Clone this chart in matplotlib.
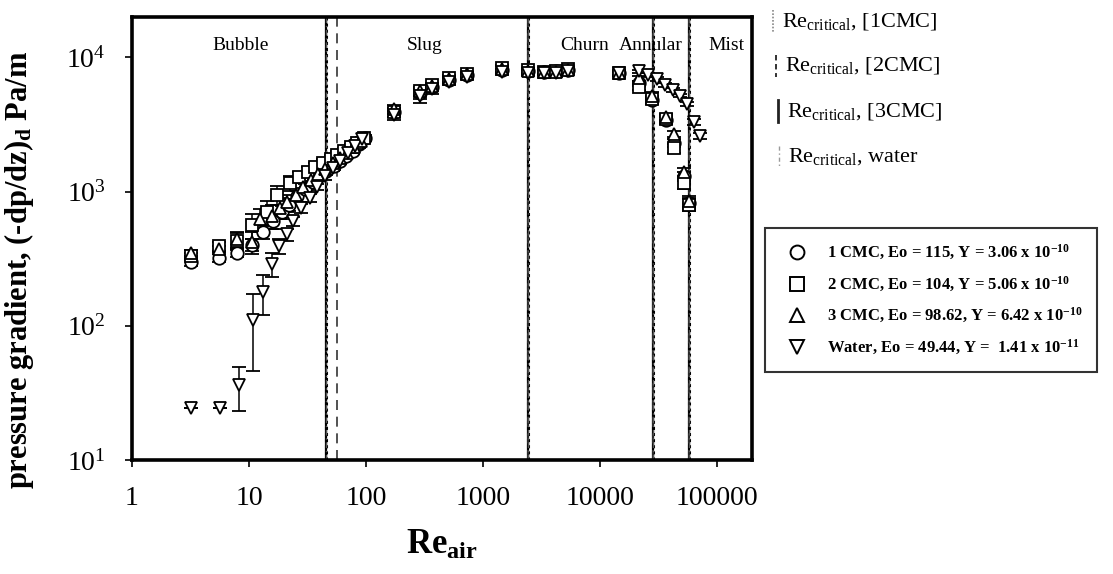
import matplotlib
matplotlib.use("Agg")
import matplotlib.pyplot as plt
from matplotlib.lines import Line2D
from matplotlib.ticker import FixedLocator, NullLocator

plt.rcParams['font.family'] = ['Liberation Serif', 'DejaVu Serif']
plt.rcParams['mathtext.fontset'] = 'custom'
plt.rcParams['mathtext.rm'] = 'Liberation Serif'
plt.rcParams['mathtext.it'] = 'Liberation Serif:italic'
plt.rcParams['mathtext.bf'] = 'Liberation Serif:bold'
plt.rcParams['axes.unicode_minus'] = False

# ---------------- data ----------------
cmc1_x = [3.2, 5.5, 7.9, 10.6, 13.2, 16, 19, 22, 26, 30, 35, 40, 46, 53, 60, 68, 77, 87, 98,
          175, 290, 370, 510, 730, 1450, 2450, 3300, 4200, 5300,
          14600, 21600, 28000, 36500, 43000, 52000, 58000]
cmc1_y = [300, 320, 350, 400, 500, 600, 700, 800, 920, 1050, 1180, 1300, 1430, 1560, 1700, 1850, 2000, 2250, 2500,
          3900, 5400, 6000, 6800, 7400, 8100, 7900, 7800, 7900, 8100,
          7700, 6400, 4800, 3400, 2300, 1300, 820]
cmc1_err = [20, 20, 25, 40, 60, 70, 80, 80, 90, 90, 100, 100, 100, 100, 100, 110, 110, 120, 120,
            300, 500, 300, 400, 300, 500, 300, 300, 300, 300,
            300, 300, 300, 200, 150, 100, 80]

cmc2_x = [3.2, 5.5, 7.9, 10.6, 14.2, 17.3, 22.5, 27, 32, 37, 43, 50, 57, 65, 74, 84, 96,
          175, 290, 370, 510, 730, 1450, 2450, 3300, 4200, 5300,
          14600, 21600, 28000, 36500, 43000, 52000, 58000]
cmc2_y = [330, 390, 430, 560, 700, 950, 1160, 1280, 1400, 1520, 1640, 1760, 1880, 2000, 2150, 2300, 2500,
          3900, 5600, 6200, 7000, 7500, 8300, 8000, 7800, 7900, 8200,
          7700, 6000, 4900, 3500, 2100, 1150, 800]
cmc2_err = [20, 30, 60, 120, 150, 150, 150, 120, 120, 120, 120, 120, 120, 120, 120, 120, 120,
            300, 400, 300, 400, 300, 500, 300, 300, 300, 300,
            300, 300, 300, 200, 150, 100, 80]

cmc3_x = [3.2, 5.5, 7.9, 10.6, 12.5, 15.7, 18.5, 21, 25, 29, 34, 39, 45, 52, 60, 69, 79, 90,
          175, 290, 370, 510, 730, 1450, 2450, 3300, 4200, 5300,
          14600, 21600, 28000, 36500, 43000, 52000, 58000]
cmc3_y = [350, 375, 440, 420, 620, 660, 760, 830, 950, 1080, 1220, 1350, 1480, 1620, 1780, 1950, 2150, 2400,
          4100, 5600, 6100, 6900, 7500, 8200, 7900, 7800, 7800, 8000,
          7600, 7000, 5200, 3600, 2700, 1400, 850]
cmc3_err = [20, 20, 60, 80, 120, 130, 130, 120, 120, 120, 120, 120, 120, 120, 120, 120, 120, 120,
            300, 400, 300, 400, 300, 500, 300, 300, 300, 300,
            300, 300, 300, 200, 150, 100, 80]

water_x = [3.2, 5.6, 8.3, 10.8, 13.3, 15.7, 18.2, 21, 24, 28, 33, 38, 45, 52, 60, 70, 80, 92,
           175, 290, 370, 510, 730, 1450, 2450, 3300, 4200, 5300,
           14600, 21600, 26000, 31000, 36000, 42000, 48000, 56000, 64000, 72000]
water_y = [24.5, 24.5, 36, 110, 180, 290, 390, 480, 600, 750, 900, 1080, 1300, 1500, 1700, 1950, 2200, 2450,
           3700, 5200, 5800, 6600, 7200, 7800, 7700, 7700, 7700, 7900,
           7600, 7900, 7400, 6900, 6200, 5700, 5200, 4500, 3300, 2600]
water_err = [0, 0, 13, 64, 60, 60, 50, 50, 50, 60, 60, 60, 70, 70, 80, 80, 80, 80,
             300, 600, 500, 400, 300, 400, 300, 300, 300, 300,
             200, 200, 200, 200, 200, 200, 150, 150, 150, 150]

# critical Reynolds numbers (regime transitions)
recrit_1cmc = [46, 2450, 28500, 57600]
recrit_2cmc = [57, 2450, 28500, 57600]
recrit_3cmc = [46, 2450, 28500, 57600]
recrit_water = [46, 2450, 28500, 57600]

regimes = ["Bubble", "Slug", "Churn", "Annular", "Mist"]
regime_x = [8.4, 320, 7400, 27000, 120000]

xticks = [1, 10, 100, 1000, 10000, 100000]
xticklabels = ["1", "10", "100", "1000", "10000", "100000"]
yticks = [10, 100, 1000, 10000]
yticklabels = ["$10^{1}$", "$10^{2}$", "$10^{3}$", "$10^{4}$"]

# ---------------- figure ----------------
fig = plt.figure(figsize=(11.13, 5.74), dpi=100)
ax = fig.add_axes([132 / 1113, 1 - 460 / 574, (752 - 132) / 1113, (460 - 17) / 574])
ax.set_xscale('log')
ax.set_yscale('log')
ax.set_xlim(1, 2.0e5)
ax.set_ylim(10, 2.0e4)

# vertical critical lines
for v in recrit_3cmc:
    ax.axvline(v, color='black', lw=1.6, ls='-', zorder=1)
for v in recrit_1cmc:
    ax.axvline(v, color='black', lw=2.2, ls=(0, (1, 1)), zorder=1)
for v in recrit_2cmc:
    ax.axvline(v, color='#333333', lw=1.2, ls=(0, (6, 4)), zorder=1)
for v in recrit_water:
    ax.axvline(v, color='#555555', lw=1.0, ls=(0, (4, 2, 1, 2)), zorder=1)

mk = dict(mfc='white', mec='black', mew=1.3, ms=9, ls='none', ecolor='black',
          elinewidth=1.1, capsize=5, capthick=1.1, zorder=3)
ax.errorbar(cmc1_x, cmc1_y, yerr=cmc1_err, marker='o', **mk)
ax.errorbar(cmc2_x, cmc2_y, yerr=cmc2_err, marker='s', **mk)
ax.errorbar(cmc3_x, cmc3_y, yerr=cmc3_err, marker='^', **mk)
ax.errorbar(water_x, water_y, yerr=water_err, marker='v', **mk)

for name, xv in zip(regimes, regime_x):
    ax.text(xv, 0.935, name, transform=ax.get_xaxis_transform(), ha='center', va='center',
            fontsize=14)

for s in ax.spines.values():
    s.set_linewidth(2.6)

ax.xaxis.set_major_locator(FixedLocator(xticks))
ax.xaxis.set_minor_locator(NullLocator())
ax.set_xticklabels(xticklabels)
ax.yaxis.set_major_locator(FixedLocator(yticks))
ax.yaxis.set_minor_locator(NullLocator())
ax.set_yticklabels(yticklabels)
ax.tick_params(axis='both', direction='out', length=5, width=1.2, labelsize=20)
ax.tick_params(axis='x', pad=14)
ax.tick_params(axis='y', pad=14)

ax.set_xlabel(r"$\mathbf{Re}_{\mathbf{air}}$", fontsize=25)
ax.xaxis.set_label_coords(0.5, -0.155)
ax.set_ylabel(r"pressure gradient, (-dp/dz)$_{\mathbf{d}}$ Pa/m", fontsize=22,
              fontweight='bold')
ax.yaxis.set_label_coords(-0.155, 0.43)

# legend for critical lines (line samples + text)
crit_labels = [r"Re$_{\mathrm{critical}}$, [1CMC]", r"Re$_{\mathrm{critical}}$, [2CMC]",
               r"Re$_{\mathrm{critical}}$, [3CMC]", r"Re$_{\mathrm{critical}}$, water"]
crit_styles = [dict(color='#888888', lw=1.2, ls=(0, (1, 1))),
               dict(color='#222222', lw=1.3, ls=(0, (3, 2))),
               dict(color='#222222', lw=2.0, ls='-'),
               dict(color='#999999', lw=1.0, ls=(0, (3, 2, 1, 2)))]
crit_y = [21, 66, 111, 157]
crit_lx = [773, 776, 778, 779]
for lab, sty, yy, lx in zip(crit_labels, crit_styles, crit_y, crit_lx):
    fig.add_artist(Line2D([lx / 1113, lx / 1113], [1 - (yy - 11) / 574, 1 - (yy + 11) / 574],
                          transform=fig.transFigure, **sty))
    fig.text((lx + 9) / 1113, 1 - yy / 574, lab, fontsize=16, va='center', ha='left')

handles = [Line2D([], [], marker=m, mfc='white', mec='black', mew=1.4, ms=10, ls='none')
           for m in ['o', 's', '^', 'v']]
labels = [r"1 CMC, Eo = 115, Y = 3.06 x 10$^{\mathbf{-10}}$",
          r"2 CMC, Eo = 104, Y = 5.06 x 10$^{\mathbf{-10}}$",
          r"3 CMC, Eo = 98.62, Y = 6.42 x 10$^{\mathbf{-10}}$",
          r"Water, Eo = 49.44, Y =  1.41 x 10$^{\mathbf{-11}}$"]
leg = fig.legend(handles, labels, loc='upper left', bbox_to_anchor=(765 / 1113, 1 - 228 / 574),
                 frameon=True, fancybox=False, edgecolor='black',
                 prop={'weight': 'bold', 'size': 12}, handletextpad=0.8, labelspacing=0.75,
                 borderpad=0.9, borderaxespad=0)
leg.get_frame().set_linewidth(1.5)

fig.savefig("out.png", dpi=100, facecolor='white')
